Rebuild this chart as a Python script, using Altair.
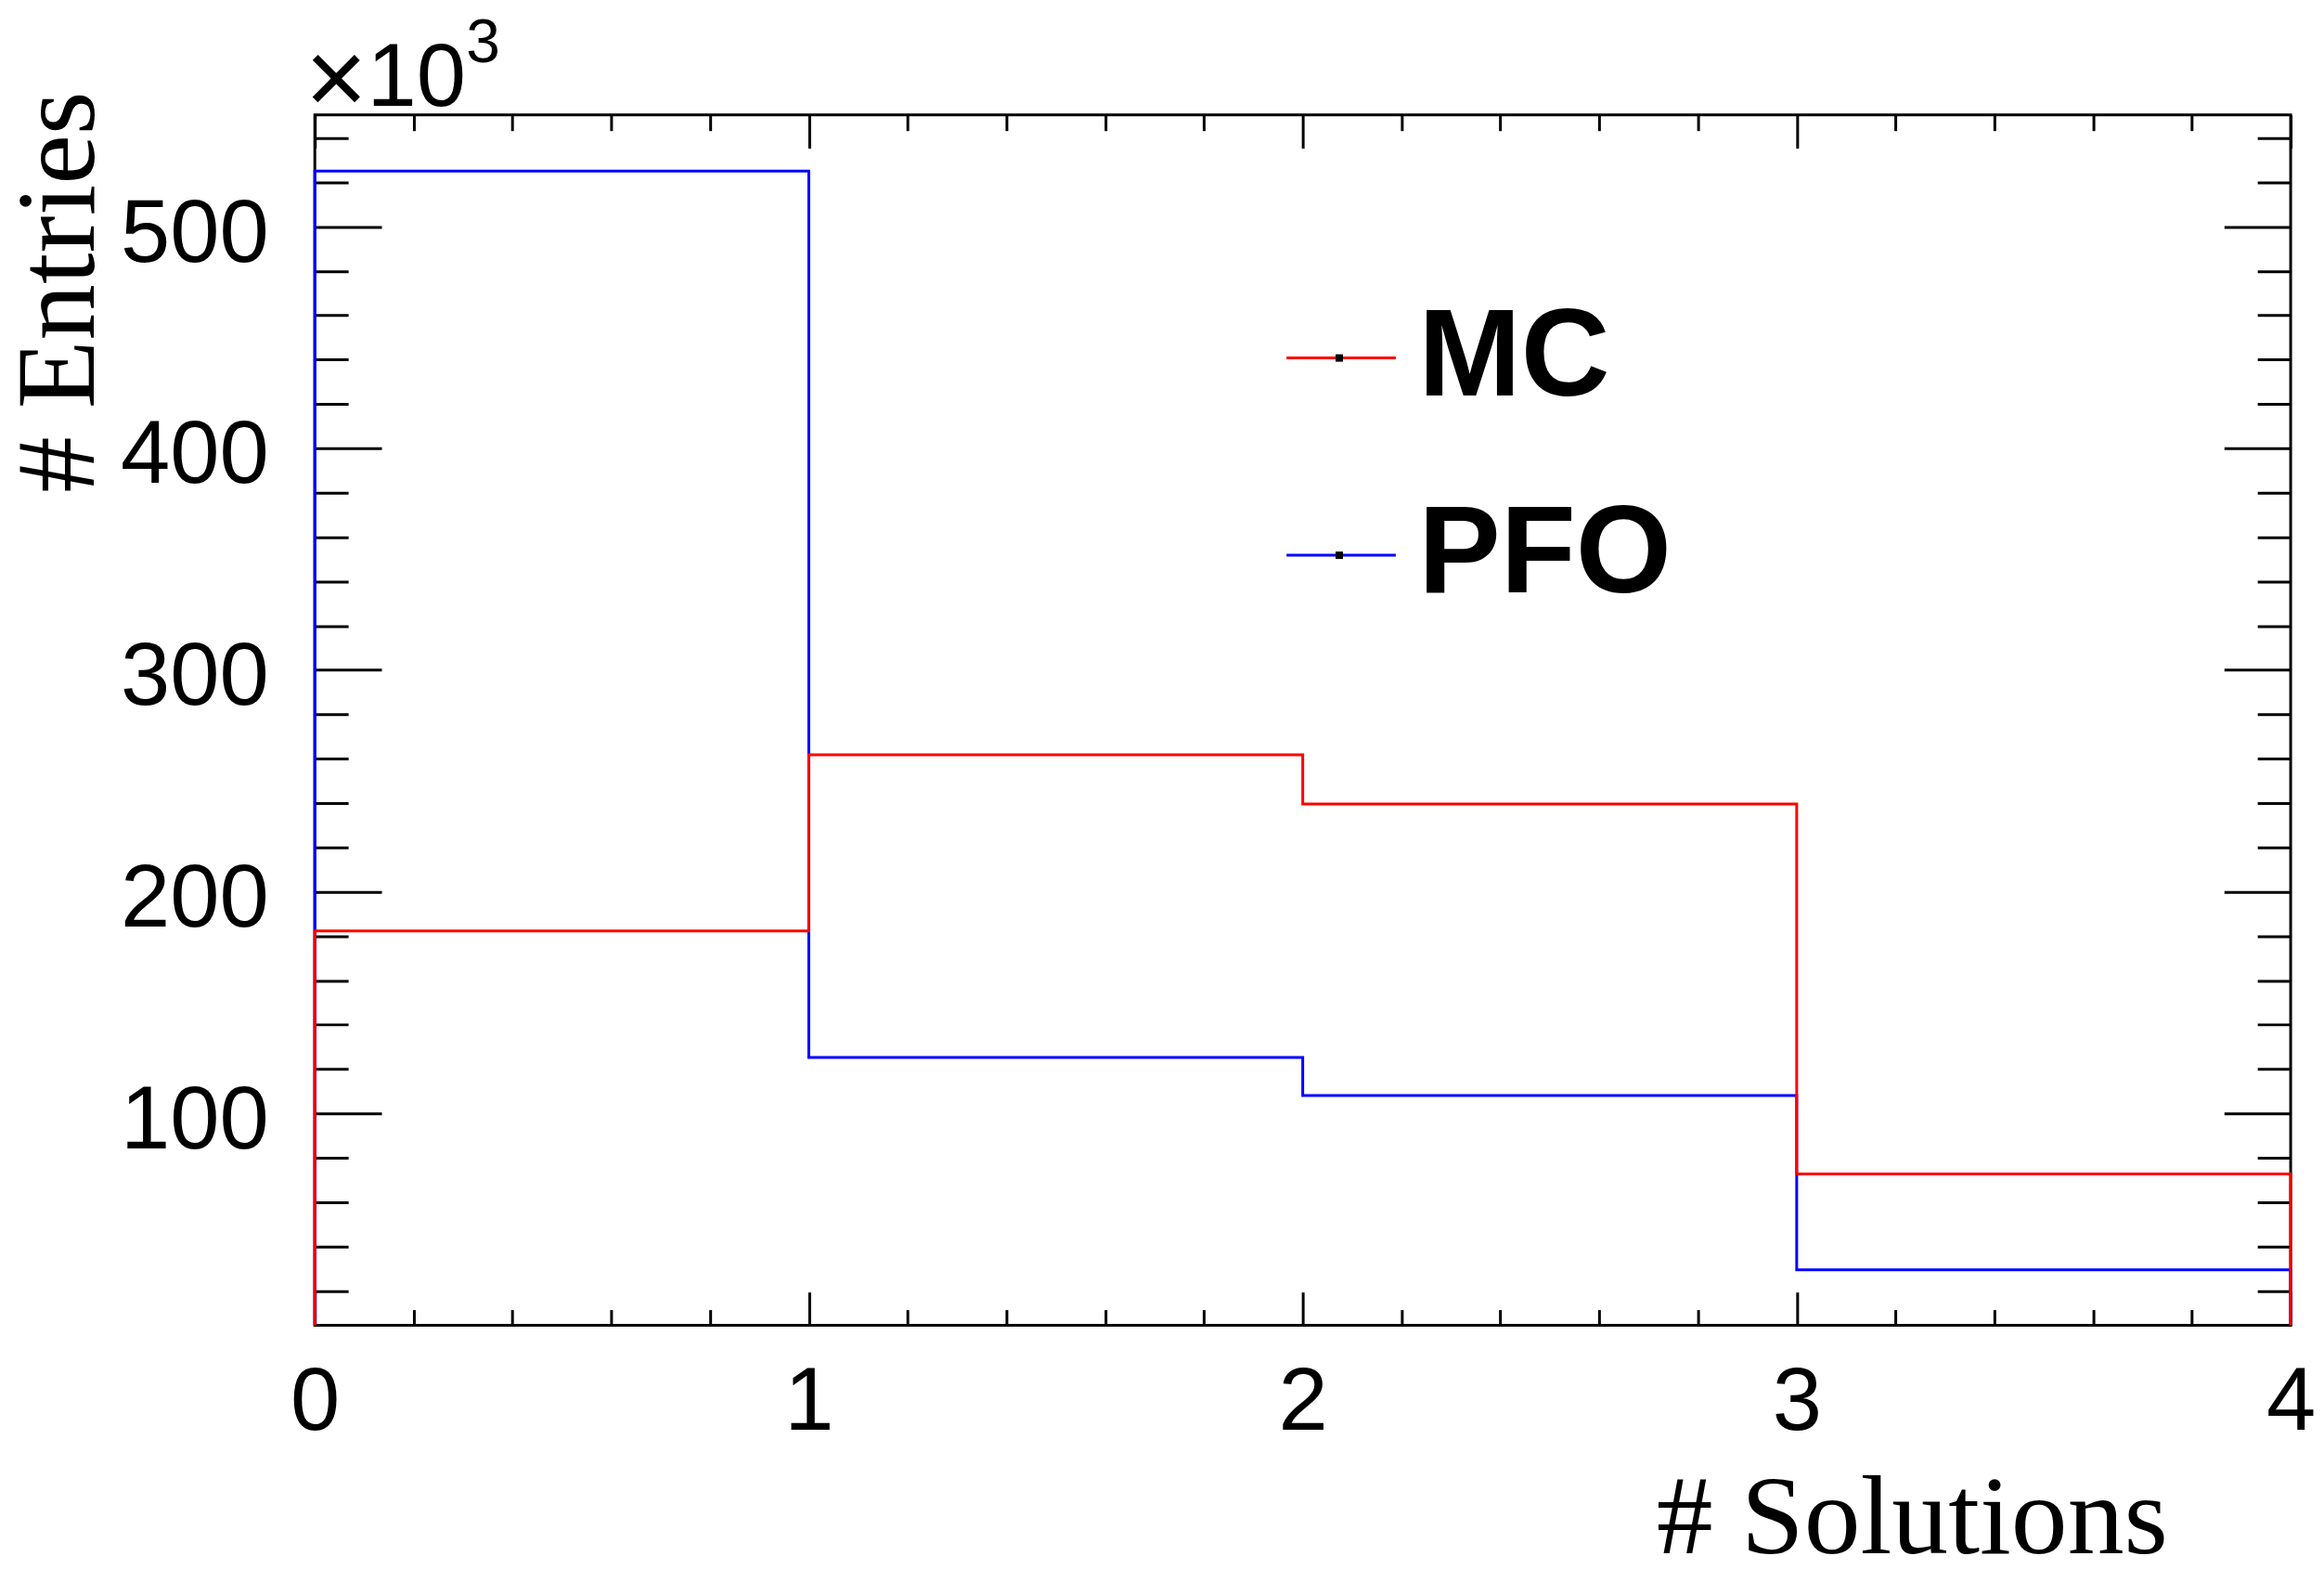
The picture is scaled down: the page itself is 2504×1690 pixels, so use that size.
import altair as alt
import pandas as pd

# ---- data ----
bin_edges = [0, 1, 2, 3, 4]
mc_counts = [182300, 261800, 239600, 72700]
pfo_counts = [525100, 125200, 108100, 29500]
series_names = ["MC", "PFO"]
series_colors = ["#ff0000", "#0000ff"]
marker_names = ["MC marker", "PFO marker"]

x_major = [0, 1, 2, 3, 4]
x_minor = [round(0.2 * i, 1) for i in range(1, 20) if i % 5]
y_major = [100000, 200000, 300000, 400000, 500000]
y_minor = [20000 * i for i in range(1, 28) if i % 5]
y_lo, y_hi = 4400, 550400

W, H = 2134, 1307


def steps(name, counts):
    rows = [{"series": name, "x": bin_edges[0], "y": y_lo, "o": 0}]
    for i, c in enumerate(counts):
        rows.append({"series": name, "x": bin_edges[i], "y": c, "o": len(rows)})
        rows.append({"series": name, "x": bin_edges[i + 1], "y": c, "o": len(rows)})
    rows.append({"series": name, "x": bin_edges[-1], "y": y_lo, "o": len(rows)})
    return rows


mc_df = pd.DataFrame(steps("MC", mc_counts))
pfo_df = pd.DataFrame(steps("PFO", pfo_counts))
all_df = pd.concat([pfo_df, mc_df], ignore_index=True)
dot_df = pd.DataFrame({"marker": marker_names, "x": [0, 0], "y": [y_lo, y_lo]})

xs = alt.Scale(domain=[0, 4], nice=False, zero=False)
ys = alt.Scale(domain=[y_lo, y_hi], nice=False, zero=False)

SANS = "Liberation Sans"
SERIF = "Liberation Serif"


def tick_axis(orient, offset, values, size, **kw):
    args = dict(orient=orient, offset=offset, values=values, tickSize=size,
                ticks=True, labels=False, domain=False, grid=False,
                tickColor="black", tickWidth=3, title=None)
    args.update(kw)
    return alt.Axis(**args)


legend = alt.Legend(
    orient="none", legendX=1042, legendY=196, title=None, padding=0,
    symbolType="stroke", symbolSize=13924, symbolStrokeWidth=3,
    labelFont=SANS, labelFontSize=133, labelFontWeight="bold", labelLimit=2000,
    labelColor="black", labelOffset=17, rowPadding=79,
)
color = alt.Color("series:N", scale=alt.Scale(domain=series_names, range=series_colors),
                  legend=legend)

# main lines + label axes
x_label_axis = alt.Axis(
    orient="bottom", values=x_major, ticks=False, tickSize=0, domain=False, grid=False,
    labelFont=SANS, labelFontSize=96, labelColor="black", labelPadding=36,
    labelFlush=False, labelOverlap=False, labelBound=False,
    title="# Solutions", titleFont=SERIF, titleFontSize=122, titleFontWeight="normal",
    titleColor="black", titleAlign="right", titleBaseline="alphabetic", titleAngle=0,
    titleX=2001, titleY=246,
)
y_label_axis = alt.Axis(
    orient="left", values=y_major, ticks=False, tickSize=0, domain=False, grid=False,
    labelExpr="format(datum.value / 1000, 'd')",
    labelFont=SANS, labelFontSize=96, labelColor="black", labelPadding=50, labelOffset=8,
    labelOverlap=False, labelBound=False,
    title="# Entries", titleFont=SERIF, titleFontSize=121, titleFontWeight="normal",
    titleColor="black", titleAlign="right", titleBaseline="alphabetic", titleAngle=270,
    titleX=-239, titleY=-26,
)

pfo_layer = alt.Chart(pfo_df).mark_line(strokeWidth=3).encode(
    x=alt.X("x:Q", scale=xs, axis=x_label_axis),
    y=alt.Y("y:Q", scale=ys, axis=y_label_axis),
    color=color, order="o:Q",
)
mc_layer = alt.Chart(mc_df).mark_line(strokeWidth=3).encode(
    x=alt.X("x:Q", scale=xs, axis=None),
    y=alt.Y("y:Q", scale=ys, axis=None),
    color=color, order="o:Q",
)


def ghost(xaxis, yaxis):
    return alt.Chart(all_df).mark_line(opacity=0).encode(
        x=alt.X("x:Q", scale=xs, axis=xaxis),
        y=alt.Y("y:Q", scale=ys, axis=yaxis),
        detail="series:N", order="o:Q",
    )


title_kw = dict(titleFont=SANS, titleFontWeight="normal", titleColor="black",
                titleAlign="left", titleBaseline="alphabetic", titleAngle=0)

# exponent label "×10^3" made of three axis titles placed above the frame
g1 = ghost(tick_axis("top", -H, x_major, 36),
           tick_axis("right", -W, y_major, 72, title="×", titleFontSize=115,
                     titleX=-11, titleY=-1, **title_kw))
g2 = ghost(tick_axis("top", -H, x_minor, 17), tick_axis("right", -W, y_minor, 36))
g3 = ghost(tick_axis("bottom", -H, x_major, 36, title="10", titleFontSize=96,
                     titleX=56, titleY=-10, **title_kw),
           tick_axis("left", -W, y_major, 72))
g4 = ghost(tick_axis("bottom", -H, x_minor, 17, title="3", titleFontSize=66,
                     titleX=163, titleY=-57, **title_kw),
           tick_axis("left", -W, y_minor, 36))

dots = alt.Chart(dot_df).mark_point(shape="square", filled=True, color="black", size=0).encode(
    x=alt.X("x:Q", scale=xs, axis=None),
    y=alt.Y("y:Q", scale=ys, axis=None),
    shape=alt.Shape("marker:N", scale=alt.Scale(domain=marker_names, range=["square", "square"]),
                    legend=alt.Legend(orient="none", legendX=1040, legendY=196, title=None,
                                      padding=0, symbolSize=64, symbolFillColor="black",
                                      symbolStrokeColor="black",
                                      symbolStrokeWidth=0, symbolOpacity=1,
                                      labelExpr="' '",
                                      labelFontSize=133, labelFont=SANS, labelFontWeight="bold",
                                      labelOpacity=0, labelOffset=33, rowPadding=79)),
)

chart = alt.layer(pfo_layer, mc_layer, g1, g2, g3, g4, dots).resolve_axis(
    x="independent", y="independent"
).properties(
    width=W, height=H,
    autosize=alt.AutoSizeParams(type="none"),
    padding={"left": 332, "top": 114, "right": 28, "bottom": 250},
    background="white",
).configure_view(
    stroke="black", strokeWidth=3, fill="white",
)

chart.save("out.html", embed_options={"renderer": "svg", "actions": False})
